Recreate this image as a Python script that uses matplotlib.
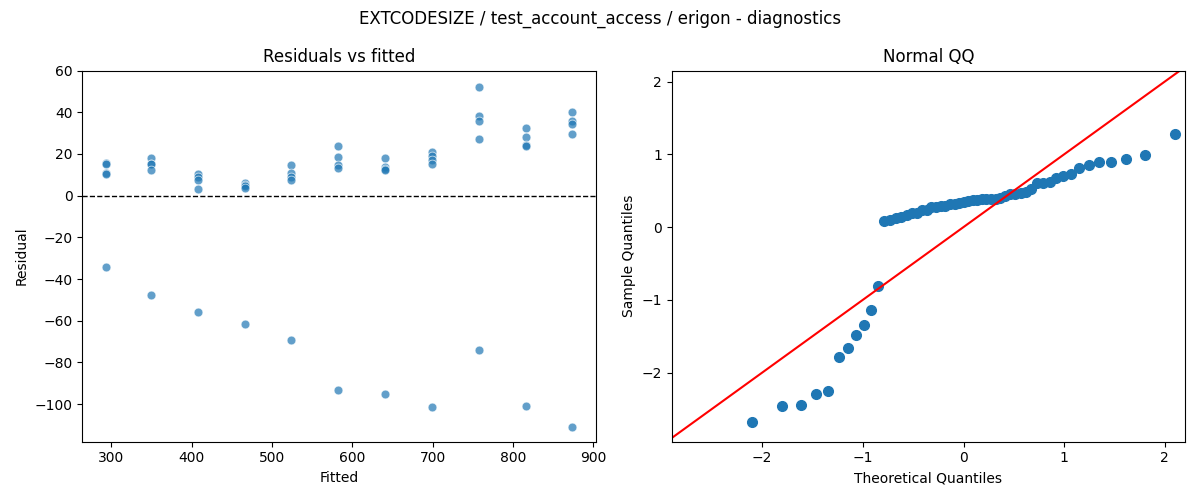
import numpy as np
import matplotlib
matplotlib.use("Agg")
import matplotlib.pyplot as plt
from statistics import NormalDist

fitted_levels = [293, 350, 408, 466, 524, 582, 641, 699, 758, 816, 874]
residual_groups = [
    [15.5, 15, 11, 10.5, -34],
    [18, 15, 15, 12.5, -47.5],
    [10.5, 9, 7.5, 3, -56],
    [6, 5, 4.5, 3.5, -61.5],
    [14.5, 11, 9, 7.5, -69],
    [24, 18.5, 14.5, 13.5, -93],
    [18, 14, 13, 12.5, -95],
    [21, 19, 17, 15, -101.5],
    [52, 38, 36, 27, -74],
    [32.5, 28, 24.5, 24, -101],
    [40, 36, 34.5, 29.5, -111],
]

fitted = np.repeat(fitted_levels, [len(g) for g in residual_groups])
resid = np.concatenate([np.array(g, float) for g in residual_groups])

fig, (ax1, ax2) = plt.subplots(1, 2, figsize=(12, 5), dpi=100)
fig.suptitle("EXTCODESIZE / test_account_access / erigon - diagnostics")

# residuals vs fitted
ax1.scatter(fitted, resid, color="#1f77b4", alpha=0.7, edgecolor="white", linewidth=0.6, s=40)
ax1.axhline(0, color="black", linestyle="--", linewidth=1)
ax1.set_title("Residuals vs fitted")
ax1.set_xlabel("Fitted")
ax1.set_ylabel("Residual")
ax1.set_ylim(-118, 60)

# normal QQ of standardized residuals
z = np.sort((resid - resid.mean()) / resid.std(ddof=1))
n = len(z)
theo = np.array([NormalDist().inv_cdf(i / (n + 1)) for i in range(1, n + 1)])
ax2.plot(theo, z, "o", color="#1f77b4", markersize=7)
ax2.set_xlim(-2.9, 2.2)
ax2.set_ylim(-2.95, 2.15)
ax2.plot([-3, 3], [-3, 3], color="red")
ax2.set_title("Normal QQ")
ax2.set_xlabel("Theoretical Quantiles")
ax2.set_ylabel("Sample Quantiles")

fig.tight_layout()
fig.savefig("out.png")
